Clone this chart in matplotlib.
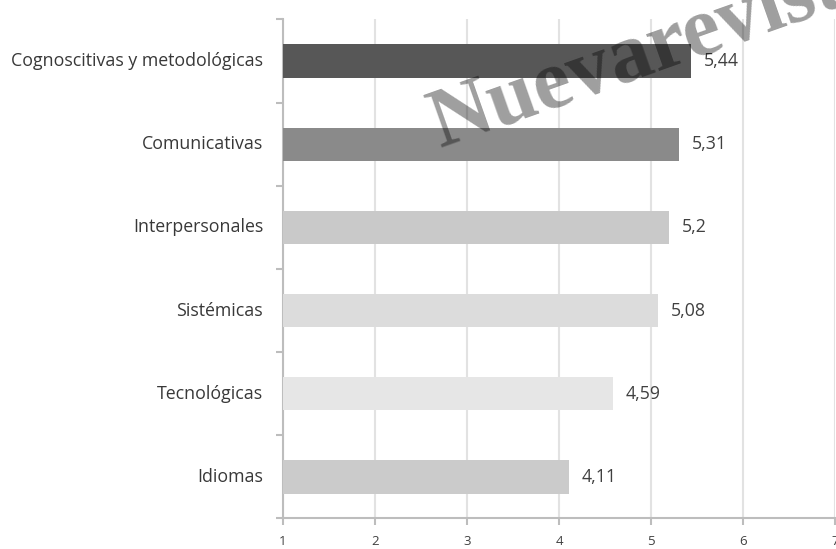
import matplotlib
matplotlib.use("Agg")
import matplotlib.pyplot as plt

categories = ["Cognoscitivas y metodológicas", "Comunicativas", "Interpersonales",
              "Sistémicas", "Tecnológicas", "Idiomas"]
values = [5.44, 5.31, 5.2, 5.08, 4.59, 4.11]
value_labels = ["5,44", "5,31", "5,2", "5,08", "4,59", "4,11"]
colors = ["#575757", "#8a8a8a", "#c9c9c9", "#dcdcdc", "#e6e6e6", "#cbcbcb"]
xticks = [1, 2, 3, 4, 5, 6, 7]

fig = plt.figure(figsize=(8.37, 5.49), dpi=100)
ax = fig.add_axes([0.338, 0.0556, 0.6596, 0.909])

ypos = list(range(len(categories)))
base = 1
ax.barh(ypos, [v - base for v in values], left=base, height=0.4, color=colors, zorder=3)
ax.set_ylim(len(categories) - 0.5, -0.5)
ax.set_xlim(1, 7)

for y, v, lab in zip(ypos, values, value_labels):
    ax.text(v + 0.14, y, lab, va="center", ha="left", fontsize=12.8,
            color="#404040", family="Open Sans", zorder=4)

ax.set_xticks(xticks)
ax.set_xticklabels([str(t) for t in xticks], fontsize=9.5, color="#404040", family="Open Sans")
ax.grid(axis="x", color="#e2e2e2", linewidth=1.5, zorder=0)
ax.set_yticks([y + 0.5 for y in [-1] + ypos])
ax.set_yticklabels([])
for y, c in zip(ypos, categories):
    ax.text(-0.036, y, c, transform=ax.get_yaxis_transform(), ha="right", va="center",
            fontsize=12.8, color="#383838", family="Open Sans")

for s in ["top", "right"]:
    ax.spines[s].set_visible(False)
for s in ["left", "bottom"]:
    ax.spines[s].set_color("#bdbdbd")
    ax.spines[s].set_linewidth(1.5)
ax.tick_params(axis="both", color="#bdbdbd", width=1.5, length=5)
ax.tick_params(axis="x", pad=7)

fig.text(440 / 837, 1 - 148 / 549, "Nuevarevista", rotation=19.5, rotation_mode="anchor",
         ha="left", va="baseline", fontsize=61, fontweight="bold",
         family="Liberation Serif", color="#000000", alpha=0.38, zorder=10)

fig.savefig("out.png", dpi=100)
